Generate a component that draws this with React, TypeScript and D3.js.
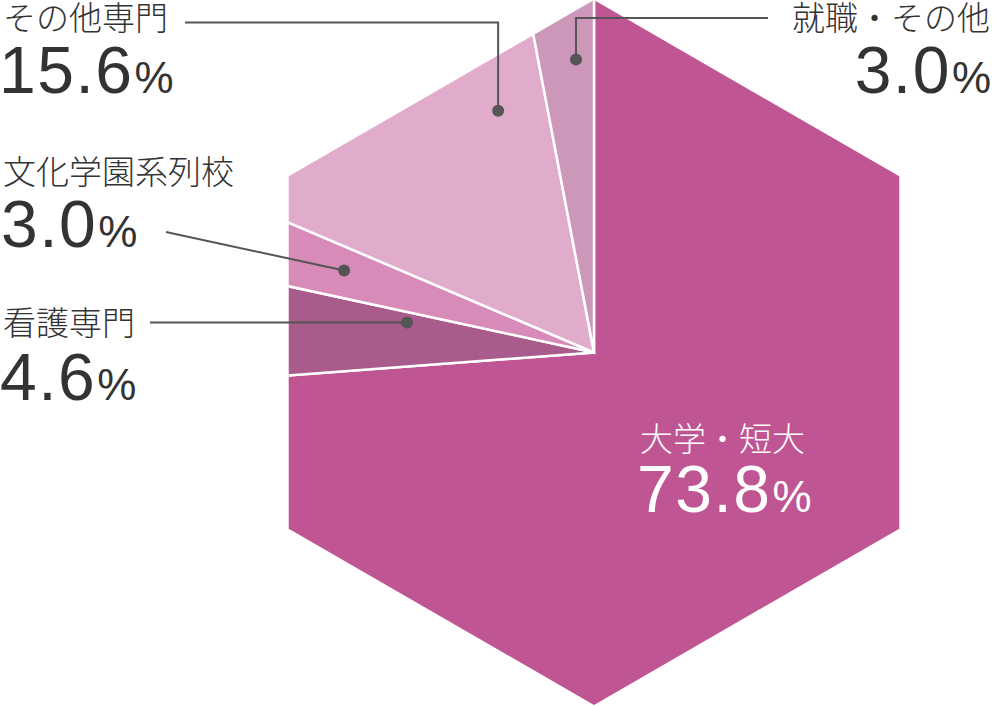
import React from 'react';
import * as d3 from 'd3';

// ---- data ----
const categories = ['大学・短大', '看護専門', '文化学園系列校', 'その他専門', '就職・その他'];
const values = [73.8, 4.6, 3.0, 15.6, 3.0];
const valueLabels = ['73.8', '4.6', '3.0', '15.6', '3.0'];
const colors = ['#bf5593', '#a95b8b', '#d88bb8', '#e1accb', '#cc97b9'];

// ---- layout ----
const W = 996;
const H = 706;
const cx = 594;
const cy = 352.5;
const R = 352.5;

type Leader = { x0: number; y0: number | null; kind: 'straight' | 'elbow' };
type Annot = {
  i: number;
  nameX: number; nameY: number; numX: number; numY: number;
  anchor: 'start' | 'end'; color: string;
  leader?: Leader; t?: number; r?: number;
};

const annots: Annot[] = [
  { i: 0, nameX: 640, nameY: 451, numX: 637, numY: 512, anchor: 'start', color: '#ffffff' },
  { i: 1, nameX: 3, nameY: 335, numX: 0, numY: 400, anchor: 'start', color: '#333333',
    leader: { x0: 150, y0: null, kind: 'straight' }, t: 0.81, r: 189.4 },
  { i: 2, nameX: 3, nameY: 184, numX: 1, numY: 247, anchor: 'start', color: '#333333',
    leader: { x0: 166, y0: 232, kind: 'straight' }, t: 0.55, r: 263 },
  { i: 3, nameX: 3, nameY: 30, numX: -1, numY: 93, anchor: 'start', color: '#333333',
    leader: { x0: 185, y0: 22.5, kind: 'elbow' }, t: 0.807, r: 260 },
  { i: 4, nameX: 990, nameY: 30, numX: 991, numY: 93, anchor: 'end', color: '#333333',
    leader: { x0: 768, y0: 18, kind: 'elbow' }, t: 0.674, r: 293.6 },
];

const JP = '"Noto Sans CJK JP", "Noto Sans", sans-serif';
const NUM = '"Liberation Sans", Arial, Helvetica, sans-serif';

export default function App() {
  const pie = d3.pie<number>().sort(null).startAngle(0).endAngle(2 * Math.PI);
  const arcs = pie(values);
  const arcGen = d3.arc<d3.PieArcDatum<number>>().innerRadius(0).outerRadius(R * 1.3);

  const hex = d3.range(6).map((k) => {
    const a = (k * Math.PI) / 3;
    return [cx + R * Math.sin(a), cy - R * Math.cos(a)];
  });
  const hexPath = 'M' + hex.map((p) => p.join(',')).join('L') + 'Z';

  const dotOf = (a: Annot) => {
    const s = arcs[a.i];
    const ang = s.startAngle + (a.t as number) * (s.endAngle - s.startAngle);
    return [cx + (a.r as number) * Math.sin(ang), cy - (a.r as number) * Math.cos(ang)];
  };

  return (
    <svg width={W} height={H} style={{ position: 'absolute', left: 0, top: 0 }}>
      <defs>
        <clipPath id="hexclip">
          <path d={hexPath} />
        </clipPath>
      </defs>
      <g clipPath="url(#hexclip)">
        <g transform={`translate(${cx},${cy})`}>
          {arcs.map((a, k) => (
            <path key={k} d={arcGen(a) || ''} fill={colors[k]} stroke="#ffffff" strokeWidth={2.5} strokeLinejoin="miter" />
          ))}
        </g>
      </g>
      {annots.map((a) => {
        const lead = a.leader;
        let leaderEl = null;
        if (lead) {
          const [dx, dy] = dotOf(a);
          const y0 = lead.y0 === null ? dy : lead.y0;
          const d =
            lead.kind === 'elbow'
              ? `M${lead.x0},${y0}H${dx}V${dy}`
              : `M${lead.x0},${y0}L${dx},${dy}`;
          leaderEl = (
            <g>
              <path d={d} fill="none" stroke="#555555" strokeWidth={2} />
              <circle cx={dx} cy={dy} r={6} fill="#555555" />
            </g>
          );
        }
        return (
          <g key={a.i}>
            {leaderEl}
            <text x={a.nameX} y={a.nameY} textAnchor={a.anchor} fill={a.color}
              style={{ fontFamily: JP, fontSize: 33, fontWeight: 300 }}>
              {categories[a.i]}
            </text>
            <text x={a.numX} y={a.numY} textAnchor={a.anchor} fill={a.color}
              style={{ fontFamily: NUM, fontSize: 66, letterSpacing: 1.5 }}>
              {valueLabels[a.i]}
              <tspan style={{ fontSize: 44, letterSpacing: 0 }} dx={1}>%</tspan>
            </text>
          </g>
        );
      })}
    </svg>
  );
}
